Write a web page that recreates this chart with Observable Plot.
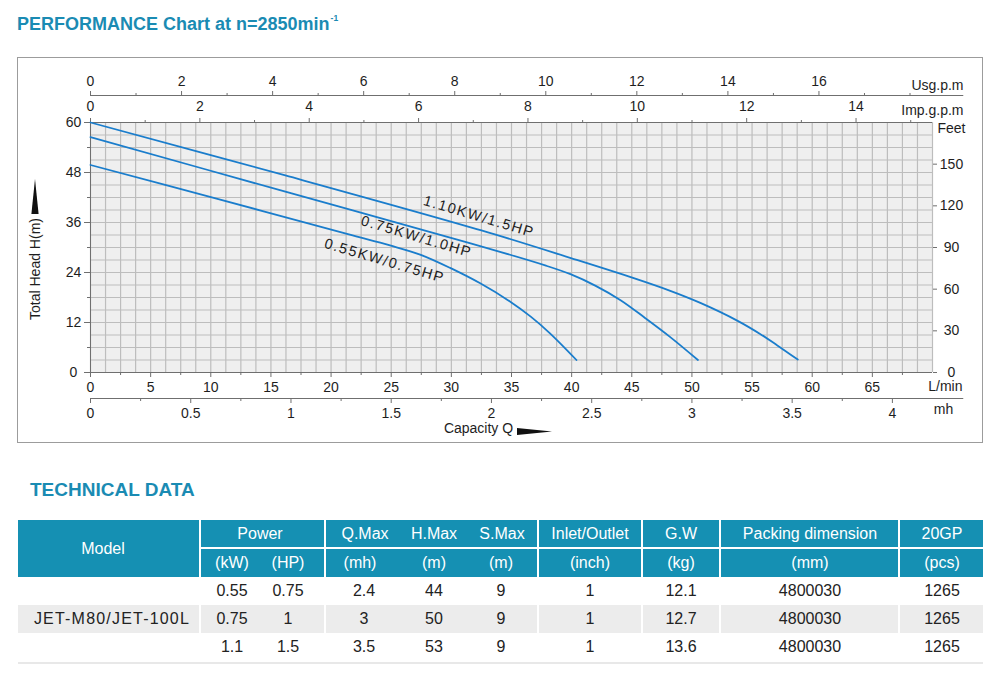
<!DOCTYPE html>
<html>
<head>
<meta charset="utf-8">
<script src="https://cdn.jsdelivr.net/npm/d3@7"></script>
<script src="https://cdn.jsdelivr.net/npm/@observablehq/plot@0.6"></script>
<style>
  html, body { margin: 0; padding: 0; background: #fff; }
  body { font-family: "Liberation Sans", Arial, Helvetica, sans-serif; }
  #page { position: relative; width: 1000px; height: 689px; overflow: hidden; }
  .heading { position: absolute; font-weight: bold; color: #1a8bb3; white-space: nowrap; }
  #title { left: 17px; top: 15px; font-size: 18px; line-height: 18px; }
  #title sup { font-size: 8.5px; vertical-align: baseline; position: relative; top: -9px; margin-left: 1px; }
  #tech { left: 30px; top: 480px; font-size: 19px; line-height: 19px; }
  #box { position: absolute; left: 17px; top: 57px; width: 966px; height: 386px; box-sizing: border-box; border: 1px solid #9c9c9c; }
  #chart { position: absolute; left: 0; top: 0; }
  .band { position: absolute; }
  .cell { position: absolute; text-align: center; white-space: nowrap; }
  .head { color: #fff; font-size: 16px; }
  .val { color: #222; font-size: 16px; }
  .model { letter-spacing: 1.2px; }
</style>
</head>
<body>
<div id="page">
  <div id="box"></div>
  <div id="chart"></div>
  <div id="title" class="heading">PERFORMANCE Chart at n=2850min<sup>-1</sup></div>
  <div id="tech" class="heading">TECHNICAL DATA</div>
  <div id="table"></div>
</div>
<script>
// ---- Performance curves: capacity Q (L/min) against total head H (m) ----
const curve055 = [[0, 49.8], [10.4, 41.8], [21.4, 33.2], [24.9, 30.5], [27.4, 28.3], [29.9, 25.1], [32.4, 21.4], [34.9, 17.0], [36.6, 13.4], [38.2, 9.4], [40.4, 3.0]];
const curve075 = [[0, 56.5], [16.2, 43.4], [31.6, 31.0], [37.8, 25.7], [39.9, 23.6], [42.0, 20.8], [44.1, 17.3], [46.1, 13.1], [48.2, 8.5], [50.5, 3.0]];
const curve110 = [[0, 60], [16.2, 47.3], [32.5, 34.1], [40.0, 27.4], [45.1, 22.7], [48.2, 19.6], [50.7, 16.7], [53.8, 12.4], [55.7, 9.2], [57.1, 6.5], [58.8, 3.1]];

// curve names and the (Q, H) point each name is centred on
const curveNames = ["0.55KW/0.75HP", "0.75KW/1.0HP", "1.10KW/1.5HP"];
const nameQ = [24.45, 27.1, 32.3];
const nameH = [26.8, 32.6, 37.4];

// ---- unit conversions used by the secondary scales ----
const lpmPerUsgpm = 3.785;
const lpmPerImpgpm = 4.546;
const lpmPerM3h = 1000 / 60;
const ftPerM = 3;

// ---- tick values of every axis ----
const usgpmTicks = [0, 2, 4, 6, 8, 10, 12, 14, 16];
const usgpmMinor = [1, 3, 5, 7, 9, 11, 13, 15, 17, 18];
const impTicks = [0, 2, 4, 6, 8, 10, 12, 14];
const impMinor = [1, 3, 5, 7, 9, 11, 13, 15];
const lpmTicks = [0, 5, 10, 15, 20, 25, 30, 35, 40, 45, 50, 55, 60, 65];
const lpmMinor = [2.5, 7.5, 12.5, 17.5, 22.5, 27.5, 32.5, 37.5, 42.5, 47.5, 52.5, 57.5, 62.5, 67.5];
const m3hTicks = [0, 0.5, 1, 1.5, 2, 2.5, 3, 3.5, 4];
const m3hMinor = [0.25, 0.75, 1.25, 1.75, 2.25, 2.75, 3.25, 3.75];
const headTicks = [0, 12, 24, 36, 48, 60];
const headMinor = [6, 18, 30, 42, 54];
const feetTicks = [0, 30, 60, 90, 120, 150];

// ---- technical data table ----
const modelName = "JET-M80/JET-100L";
const powerKW = ["0.55", "0.75", "1.1"];
const powerHP = ["0.75", "1", "1.5"];
const qMax = ["2.4", "3", "3.5"];
const hMax = ["44", "50", "53"];
const sMax = ["9", "9", "9"];
const inletOutlet = ["1", "1", "1"];
const grossWeight = ["12.1", "12.7", "13.6"];
const packingDim = ["4800030", "4800030", "4800030"];
const per20GP = ["1265", "1265", "1265"];

const fmt = v => String(+v.toFixed(2));
const axisStroke = "#6f6f6f";
const ink = "#1e1e1e";
const blue = "#1a7dcc";
const blank = () => "";

const labels = curveNames.map((t, i) => ({t, q: nameQ[i], h: nameH[i]}));
const series = [curve055, curve075, curve110];

const chart = Plot.plot({
  width: 1000,
  height: 450,
  marginLeft: 90,
  marginRight: 68,
  marginTop: 122,
  marginBottom: 78,
  x: {domain: [0, 70], axis: null, label: null},
  y: {domain: [0, 60], axis: null, label: null},
  style: {background: "transparent", fontFamily: "'Liberation Sans', Arial, sans-serif", fontSize: "14px", color: ink},
  marks: [
    Plot.frame({fill: "#efefef", stroke: "none"}),
    Plot.gridX(d3.range(0, 70.001, 1.25), {stroke: "#bdbdbd", strokeOpacity: 1, strokeWidth: 1.2}),
    Plot.gridY(d3.range(0, 60.001, 3), {stroke: "#bdbdbd", strokeOpacity: 1, strokeWidth: 1.2}),

    // axis lines
    Plot.ruleX([0], {y1: 0, y2: 60, stroke: axisStroke}),
    Plot.ruleY([0], {x1: 0, x2: 70, stroke: axisStroke}),
    Plot.ruleY([60], {x1: 0, x2: 70, stroke: axisStroke}),
    Plot.ruleY([60], {x1: 0, x2: 72.6, dy: -27, stroke: axisStroke}),
    Plot.ruleY([0], {x1: 0, x2: 72.6, dy: 26, stroke: axisStroke}),

    // US gallons per minute (top row)
    Plot.axisX(usgpmTicks.map(v => v * lpmPerUsgpm), {anchor: "top", label: null, dy: -27, tickSize: 5, tickPadding: 5, stroke: axisStroke, fill: ink, tickFormat: d => fmt(d / lpmPerUsgpm)}),
    Plot.axisX(usgpmMinor.map(v => v * lpmPerUsgpm), {anchor: "top", label: null, dy: -27, tickSize: 3, stroke: axisStroke, tickFormat: blank}),
    Plot.text(["Usg.p.m"], {frameAnchor: "top-right", dx: 31, dy: -42, textAnchor: "end", fill: ink}),

    // Imperial gallons per minute (second row)
    Plot.axisX(impTicks.map(v => v * lpmPerImpgpm), {anchor: "top", label: null, tickSize: 5, tickPadding: 7, stroke: axisStroke, fill: ink, tickFormat: d => fmt(d / lpmPerImpgpm)}),
    Plot.axisX(impMinor.map(v => v * lpmPerImpgpm), {anchor: "top", label: null, tickSize: 3, stroke: axisStroke, tickFormat: blank}),
    Plot.text(["Imp.g.p.m"], {frameAnchor: "top-right", dx: 31, dy: -17, textAnchor: "end", fill: ink}),

    // litres per minute (bottom row)
    Plot.axisX(lpmTicks, {anchor: "bottom", label: null, tickSize: 5, tickPadding: 5, stroke: axisStroke, fill: ink, tickFormat: fmt}),
    Plot.axisX(lpmMinor, {anchor: "bottom", label: null, tickSize: 3, stroke: axisStroke, tickFormat: blank}),
    Plot.text(["L/min"], {frameAnchor: "bottom-right", dx: 30, dy: 18, textAnchor: "end", fill: ink}),

    // cubic metres per hour (lowest row)
    Plot.axisX(m3hTicks.map(v => v * lpmPerM3h), {anchor: "bottom", label: null, dy: 26, tickSize: 5, tickPadding: 5, stroke: axisStroke, fill: ink, tickFormat: d => fmt(d / lpmPerM3h)}),
    Plot.axisX(m3hMinor.map(v => v * lpmPerM3h), {anchor: "bottom", label: null, dy: 26, tickSize: 3, stroke: axisStroke, tickFormat: blank}),
    Plot.text(["mh"], {frameAnchor: "bottom-right", dx: 11, dy: 41, textAnchor: "middle", fill: ink}),
    Plot.text(["Capacity Q"], {frameAnchor: "bottom", dx: -33, dy: 60, textAnchor: "middle", fill: ink}),

    // head in metres (left) and feet (right)
    Plot.axisY(headTicks, {anchor: "left", label: null, tickSize: 6, tickPadding: 11, textAnchor: "middle", stroke: axisStroke, fill: ink, tickFormat: fmt}),
    Plot.axisY(headMinor, {anchor: "left", label: null, tickSize: 3, stroke: axisStroke, tickFormat: blank}),
    Plot.text(["Total Head H(m)"], {frameAnchor: "left", dx: -55, dy: 21.5, rotate: -90, textAnchor: "middle", fill: ink}),
    Plot.axisY(feetTicks.map(v => v / ftPerM), {anchor: "right", label: null, tickSize: 4, tickPadding: 15, textAnchor: "middle", stroke: axisStroke, fill: ink, tickFormat: d => fmt(d * ftPerM)}),
    Plot.text(["Feet"], {frameAnchor: "top-right", dx: 19, dy: 1, textAnchor: "middle", fill: ink}),

    // pump curves
    ...series.map(s => Plot.line(s, {x: d => d[0], y: d => d[1], stroke: blue, strokeWidth: 1.8, curve: "catmull-rom"})),
    Plot.text(labels, {x: "q", y: "h", text: "t", rotate: 16.5, fontSize: 14.5, fill: ink})
  ]
});

const svg = d3.select(chart);
// spaced lettering of the curve names
svg.selectAll("text").filter(function () { return curveNames.includes(this.textContent); })
  .style("letter-spacing", "1.6px");
// direction arrows beside the axis titles
svg.append("path").attr("d", "M35,179L38.6,214L31.4,214Z").attr("fill", "#111");
svg.append("path").attr("d", "M517,428L552,431.5L517,435Z").attr("fill", "#111");
document.getElementById("chart").appendChild(chart);

// ---- technical data table ----
const table = document.getElementById("table");
function band(x0, x1, y0, y1, color) {
  const d = document.createElement("div");
  d.className = "band";
  Object.assign(d.style, {left: x0 + "px", top: y0 + "px", width: (x1 - x0) + "px", height: (y1 - y0) + "px", background: color});
  table.appendChild(d);
}
function cell(text, cx, y0, y1, cls) {
  const d = document.createElement("div");
  d.className = "cell " + cls;
  Object.assign(d.style, {left: (cx - 100) + "px", width: "200px", top: y0 + "px", height: (y1 - y0) + "px", lineHeight: (y1 - y0) + "px"});
  d.textContent = text;
  table.appendChild(d);
}
const teal = "#1590b3";
const groups = [[18, 199], [201, 324], [326, 537], [539, 641], [643, 719], [721, 898], [900, 983]];
band(18, 199, 520, 577, teal);
groups.slice(1).forEach(([a, b]) => { band(a, b, 520, 547, teal); band(a, b, 549, 577, teal); });
groups.forEach(([a, b]) => band(a, b, 605, 633, "#ececec"));
band(18, 983, 662, 664, "#e8e8e8");

const centers = {kw: 232, hp: 288, q: 364, h: 434, s: 501, io: 590, gw: 681, pk: 810, gp: 942};
cell("Model", 103, 520, 577, "head");
cell("Power", 260, 520, 547, "head");
cell("Q.Max", 365, 520, 547, "head");
cell("H.Max", 434, 520, 547, "head");
cell("S.Max", 502, 520, 547, "head");
cell("Inlet/Outlet", centers.io, 520, 547, "head");
cell("G.W", centers.gw, 520, 547, "head");
cell("Packing dimension", centers.pk, 520, 547, "head");
cell("20GP", centers.gp, 520, 547, "head");
cell("(kW)", centers.kw, 549, 577, "head");
cell("(HP)", centers.hp, 549, 577, "head");
cell("(mh)", 360, 549, 577, "head");
cell("(m)", centers.h, 549, 577, "head");
cell("(m)", centers.s, 549, 577, "head");
cell("(inch)", centers.io, 549, 577, "head");
cell("(kg)", centers.gw, 549, 577, "head");
cell("(mm)", centers.pk, 549, 577, "head");
cell("(pcs)", centers.gp, 549, 577, "head");

const rowTop = [577, 605, 633];
rowTop.forEach((t, i) => {
  const b = t + 28;
  if (i === 1) cell(modelName, 112, t, b, "val model");
  cell(powerKW[i], centers.kw, t, b, "val");
  cell(powerHP[i], centers.hp, t, b, "val");
  cell(qMax[i], centers.q, t, b, "val");
  cell(hMax[i], centers.h, t, b, "val");
  cell(sMax[i], centers.s, t, b, "val");
  cell(inletOutlet[i], centers.io, t, b, "val");
  cell(grossWeight[i], centers.gw, t, b, "val");
  cell(packingDim[i], centers.pk, t, b, "val");
  cell(per20GP[i], centers.gp, t, b, "val");
});
</script>
</body>
</html>
